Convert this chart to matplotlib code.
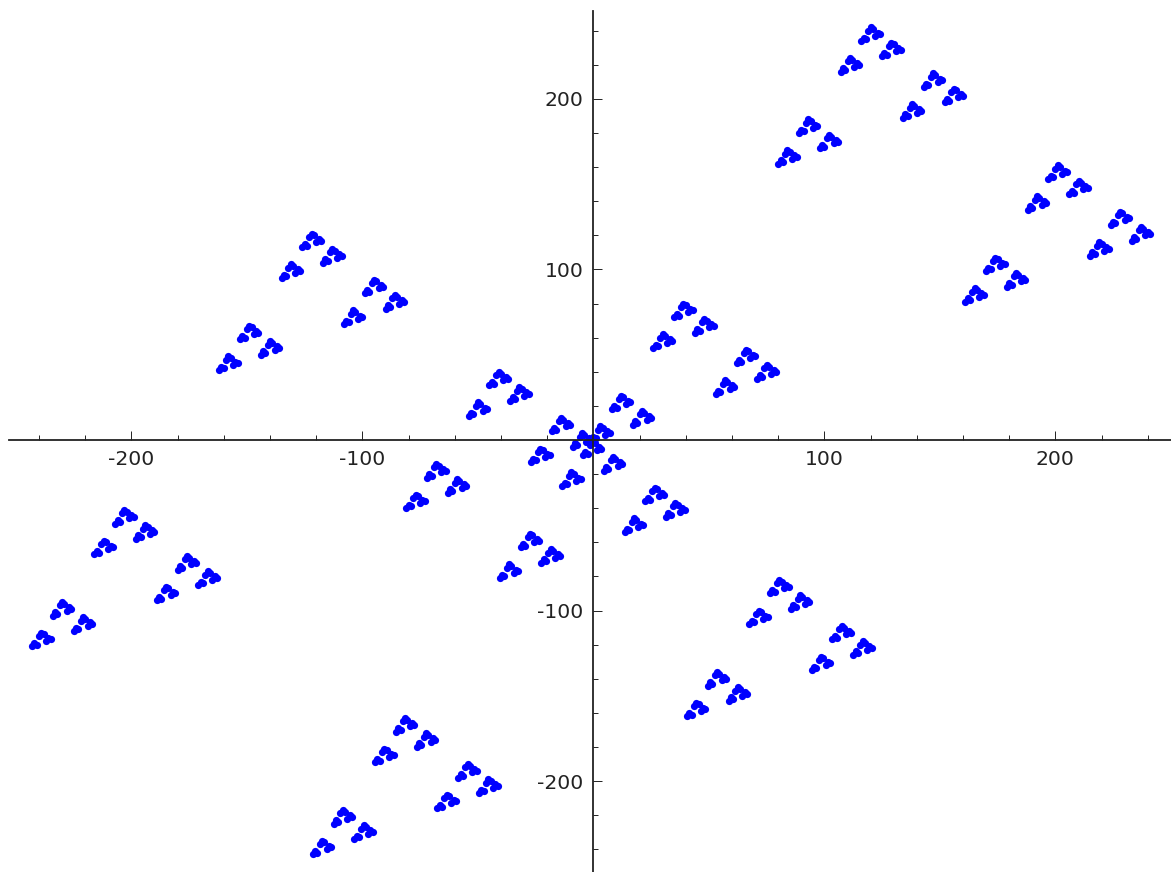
import matplotlib
matplotlib.use("Agg")
import matplotlib.pyplot as plt

# Triangle clusters: anchor of each three-blob item (data units)
item_x = [107,116,125,134,143,152,80,89,98,
          188,197,206,215,224,233,161,170,179,
          26,35,44,53,62,71,-1,8,17,
          -135,-126,-117,-108,-99,-90,-162,-153,-144,
          -54,-45,-36,-27,-18,-9,-81,-72,-63,
          -216,-207,-198,-189,-180,-171,-243,-234,-225,
          -13.5,-4.5,4.5,13.5,22.5,31.5,-40.5,-31.5,-22.5,
          67.5,76.5,85.5,94.5,103.5,112.5,40.5,49.5,58.5,
          -94.5,-85.5,-76.5,-67.5,-58.5,-49.5,-121.5,-112.5,-103.5]
item_y = [216,234,225,189,207,198,162,180,171,
          135,153,144,108,126,117,81,99,90,
          54,72,63,27,45,36,0,18,9,
          95,113,104,68,86,77,41,59,50,
          14,32,23,-13,5,-4,-40,-22,-31,
          -67,-49,-58,-94,-76,-85,-121,-103,-112,
          -27,-9,-18,-54,-36,-45,-81,-63,-72,
          -108,-90,-99,-135,-117,-126,-162,-144,-153,
          -189,-171,-180,-216,-198,-207,-243,-225,-234]
# Offsets of blobs within an item, and of dots within a blob
blob_dx = [0, 3, 6]
blob_dy = [0, 6, 3]
dot_dx = [0, 1, 2]
dot_dy = [0, 2, 1]

major_ticks = [-200, -100, 100, 200]
major_labels = ["-200", "-100", "100", "200"]
minor_ticks = [-240,-220,-180,-160,-140,-120,-80,-60,-40,-20,20,40,60,80,120,140,160,180,220,240]

W, H = 1171, 872
SX, SY = 2.31, 1.705
X0, Y0 = 593.4, 440
L, R, T, B = 9, 1171, 11, 872

px, py = [], []
for ix, iy in zip(item_x, item_y):
    for bx, by in zip(blob_dx, blob_dy):
        for dx, dy in zip(dot_dx, dot_dy):
            px.append(ix + bx + dx)
            py.append(iy + by + dy)

fig = plt.figure(figsize=(W / 100, H / 100), dpi=100)
ax = fig.add_axes([L / W, 1 - B / H, (R - L) / W, (B - T) / H])
ax.set_xlim((L - X0) / SX, (R - X0) / SX)
ax.set_ylim((Y0 - B) / SY, (Y0 - T) / SY)
ax.scatter(px, py, s=27, c="#0000ff", linewidths=0, zorder=1, clip_on=False)

for s in ("top", "right"):
    ax.spines[s].set_visible(False)
ax.spines["left"].set_position(("data", 0))
ax.spines["bottom"].set_position(("data", 0))
for s in ("left", "bottom"):
    ax.spines[s].set_linewidth(1.3)
    ax.spines[s].set_color("#222222")
    ax.spines[s].set_zorder(5)

ax.set_xticks(major_ticks)
ax.set_xticklabels(major_labels)
ax.set_yticks(major_ticks)
ax.set_yticklabels(major_labels)
ax.set_xticks(minor_ticks, minor=True)
ax.set_yticks(minor_ticks, minor=True)
ax.tick_params(which="major", direction="in", length=6.5, width=0.7, pad=7,
               labelsize=14.7, labelcolor="#222222", color="#222222", zorder=5)
ax.tick_params(which="minor", direction="in", length=3.6, width=0.7, color="#222222")
fig.savefig("out.png", dpi=100)
